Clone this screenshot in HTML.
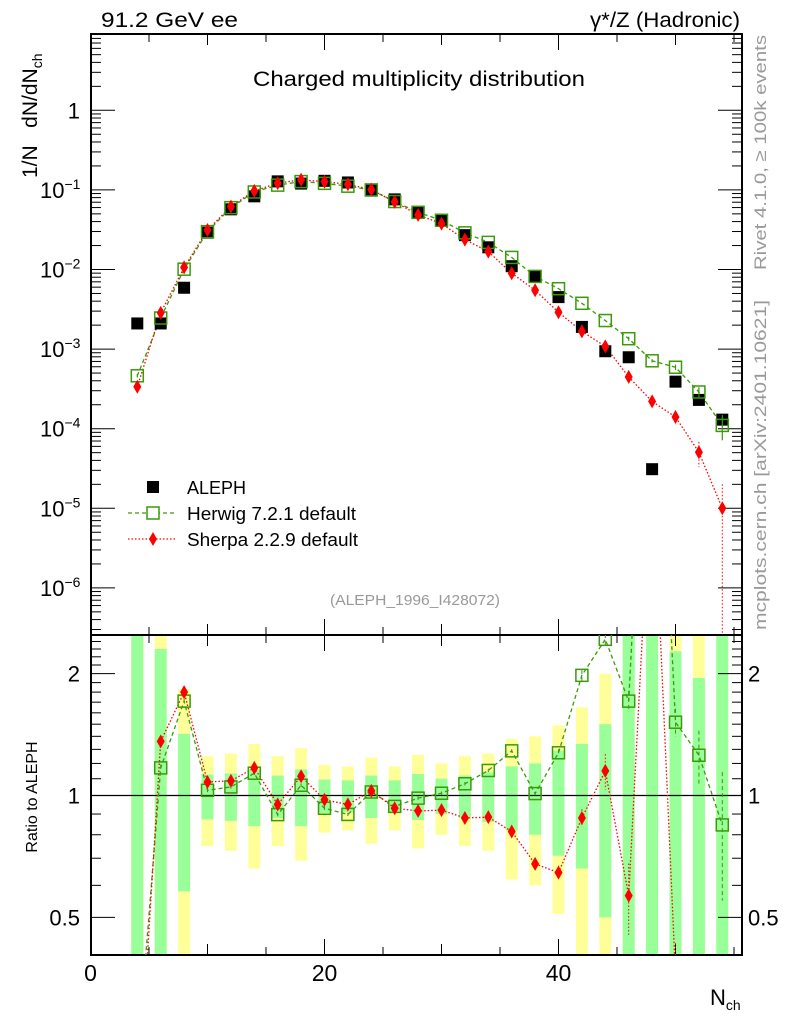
<!DOCTYPE html>
<html><head><meta charset="utf-8"><style>
html,body{margin:0;padding:0;background:#fff;overflow:hidden;}
svg{display:block;font-family:"Liberation Sans",sans-serif;}
</style></head><body>
<svg id="chart" width="786" height="1024" viewBox="0 0 786 1024" xmlns="http://www.w3.org/2000/svg">
<defs>
<clipPath id="clipMain"><rect x="91" y="34" width="651" height="601"/></clipPath>
<clipPath id="clipRatio"><rect x="91" y="635" width="651" height="320"/></clipPath>
</defs>
<g id="bands" clip-path="url(#clipRatio)"></g>
<g id="axes"></g>
<g id="mainSeries" clip-path="url(#clipMain)"></g>
<g id="ratioSeries" clip-path="url(#clipRatio)"></g>
<text x="101" y="27" font-size="21" textLength="137" lengthAdjust="spacingAndGlyphs">91.2 GeV ee</text>
<text x="590" y="27" font-size="21" textLength="150" lengthAdjust="spacingAndGlyphs">γ*/Z (Hadronic)</text>
<text x="253" y="86" font-size="21" textLength="332" lengthAdjust="spacingAndGlyphs">Charged multiplicity distribution</text>
<text transform="translate(37,178) rotate(-90)" font-size="21">1/N&#160;&#160;&#160;dN/dN<tspan font-size="14" dy="5">ch</tspan></text>
<text transform="translate(37,797) rotate(-90)" font-size="16" text-anchor="middle">Ratio to ALEPH</text>
<text x="710" y="1005" font-size="22">N<tspan font-size="14" dy="5">ch</tspan></text>
<text transform="translate(766,270) rotate(-90)" font-size="17" fill="#999" textLength="235" lengthAdjust="spacingAndGlyphs">Rivet 4.1.0, ≥ 100k events</text>
<text transform="translate(766,630) rotate(-90)" font-size="17" fill="#999" textLength="330" lengthAdjust="spacingAndGlyphs">mcplots.cern.ch [arXiv:2401.10621]</text>
<text x="330" y="605" font-size="15" fill="#999" textLength="170" lengthAdjust="spacingAndGlyphs">(ALEPH_1996_I428072)</text>
<g>
<rect x="147" y="481" width="12" height="12" fill="#000"/>
<text x="187" y="494" font-size="18">ALEPH</text>
<line x1="128" y1="513" x2="176" y2="513" stroke="#3a9a0a" stroke-width="1.3" stroke-dasharray="4,3"/>
<rect x="147" y="507" width="12" height="12" fill="#fff" stroke="#3a9a0a" stroke-width="1.5"/>
<text x="187" y="520" font-size="18" textLength="169" lengthAdjust="spacingAndGlyphs">Herwig 7.2.1 default</text>
<line x1="128" y1="539" x2="176" y2="539" stroke="#f00" stroke-width="1.3" stroke-dasharray="1.5,2"/>
<polygon points="153,532 157,539 153,546 149,539" fill="#f00"/>
<text x="187" y="546" font-size="18" textLength="171" lengthAdjust="spacingAndGlyphs">Sherpa 2.2.9 default</text>
</g>
</svg>
<script>
const nch = [4,6,8,10,12,14,16,18,20,22,24,26,28,30,32,34,36,38,40,42,44,46,48,50,52,54];
const alephVals = [2.1e-3,2.1e-3,5.9e-3,0.029,0.057,0.083,0.128,0.12,0.13,0.124,0.098,0.076,0.053,0.041,0.027,0.019,0.011,0.0081,0.0045,0.0019,0.00094,0.00079,3.1e-5,3.9e-4,2.3e-4,1.3e-4];
const herwigRatio = [0.22,1.17,1.71,1.03,1.05,1.135,0.897,1.06,0.93,0.898,1.02,0.94,0.985,1.013,1.069,1.153,1.289,1.011,1.275,1.98,2.43,1.71,23,1.517,1.257,0.846];
const sherpaRatio = [0.16,1.36,1.8,1.08,1.087,1.17,0.95,1.116,0.976,0.95,1.027,0.93,0.916,0.92,0.88,0.884,0.815,0.678,0.645,0.88,1.15,0.566,7.1,0.36,0.22,0.077];
const herwigRelErr = [0.05,0.02,0.02,0.01,0.01,0.01,0.01,0.01,0.01,0.01,0.01,0.01,0.01,0.01,0.01,0.01,0.01,0.01,0.02,0.03,0.03,0.06,0.05,0.08,0.15,0.35];
const sherpaRelErr = [0.12,0.02,0.02,0.01,0.01,0.01,0.01,0.01,0.01,0.01,0.01,0.01,0.01,0.01,0.01,0.02,0.02,0.03,0.04,0.05,0.1,0.2,0.15,0.2,0.35,1.0];
const statErr = [5,1.3,0.42,0.127,0.134,0.16,0.12,0.16,0.095,0.09,0.12,0.09,0.13,0.1,0.12,0.14,0.18,0.2,0.29,0.34,0.5,5,5,1.27,0.95,5];
const totErr = [6,3,0.83,0.25,0.27,0.34,0.25,0.31,0.19,0.18,0.24,0.18,0.26,0.2,0.25,0.27,0.38,0.4,0.49,0.65,1.0,6,6,3,3,6];
const xTicks = [0,20,40];
const yDecades = [0,-1,-2,-3,-4,-5,-6];
const ratioTicks = [0.5,1,2];

const NS="http://www.w3.org/2000/svg";
const L=91,R=742,T=34,MB=635,RB=955;
const X=v=>90.5+v*11.7;
const Y=v=>110.3-Math.log10(v)*79.6;
const RY=v=>795.5-Math.log10(v)*405;
function mk(parent,tag,attrs){const e=document.createElementNS(NS,tag);for(const k in attrs)e.setAttribute(k,attrs[k]);parent.appendChild(e);return e;}
const axes=document.getElementById('axes');
const bands=document.getElementById('bands');
const ms=document.getElementById('mainSeries');
const rs=document.getElementById('ratioSeries');
const clampR=v=>Math.max(0.01,v);

nch.forEach((n,i)=>{
  const y1=mk(bands,'rect',{x:X(n)-6,y:RY(1+totErr[i]),width:12,height:RY(clampR(1-totErr[i]))-RY(1+totErr[i]),fill:'#ffff99'});
  
  
  const g=mk(bands,'rect',{x:X(n)-6,y:RY(1+statErr[i]),width:12,height:RY(clampR(1-statErr[i]))-RY(1+statErr[i]),fill:'#99ff99'});
  
  
});

const f1=mk(axes,'rect',{x:L,y:T,width:R-L,height:MB-T,fill:'none',stroke:'#000','stroke-width':2});


const f2=mk(axes,'rect',{x:L,y:MB,width:R-L,height:RB-MB,fill:'none',stroke:'#000','stroke-width':2});


const one=mk(axes,'line',{x1:L,y1:RY(1),x2:R,y2:RY(1),stroke:'#000','stroke-width':1.2});



for(let v=0;v<=55;v+=5){
  const len=(v%20===0)?16:(v%10===0?11:8);
  [[T,1],[MB,-1],[MB,1],[RB,-1]].forEach(([y,d])=>mk(axes,'line',{x1:X(v),y1:y,x2:X(v),y2:y+d*len,stroke:'#000','stroke-width':1}));
}
xTicks.forEach(v=>{
  const t=mk(axes,'text',{x:X(v),y:981,'font-size':23,'text-anchor':'middle'});
  t.textContent=v;
  
  
});
for(let d=-7;d<=0;d++){
  for(let m=1;m<=9;m++){
    const v=m*Math.pow(10,d);const y=Y(v);
    if(y<T||y>MB)continue;
    const len=m===1?24:10;
    mk(axes,'line',{x1:L,y1:y,x2:L+len,y2:y,stroke:'#000','stroke-width':1});
    mk(axes,'line',{x1:R,y1:y,x2:R-len,y2:y,stroke:'#000','stroke-width':1});
  }
}
yDecades.forEach(d=>{
  const t=mk(axes,'text',{x:d===0?80:62,y:Y(Math.pow(10,d))+8,'font-size':22,'text-anchor':'end'});
  
  
  if(d===0){t.textContent='1';}
  else{t.textContent='10';const s=mk(t,'tspan',{dy:-9,'font-size':14});s.textContent='−'+(-d);t.setAttribute('text-anchor','start');t.setAttribute('x',40);}
});
for(let v=0.4;v<=2.5;v+=0.1){
  const y=RY(v);if(y<MB||y>RB)continue;
  const major=Math.abs(v-1)<0.01||Math.abs(v-2)<0.01||Math.abs(v-0.5)<0.01;
  const len=major?24:10;
  mk(axes,'line',{x1:L,y1:y,x2:L+len,y2:y,stroke:'#000','stroke-width':1});
  mk(axes,'line',{x1:R,y1:y,x2:R-len,y2:y,stroke:'#000','stroke-width':1});
}
ratioTicks.forEach(v=>{
  const a=mk(axes,'text',{x:80,y:RY(v)+8,'font-size':22,'text-anchor':'end'});a.textContent=v;
  
  
  const b=mk(axes,'text',{x:748,y:RY(v)+8,'font-size':22});b.textContent=v;
  
  
});

const hw=nch.map((n,i)=>alephVals[i]*herwigRatio[i]);
const sh=nch.map((n,i)=>alephVals[i]*sherpaRatio[i]);
mk(ms,'polyline',{points:nch.map((n,i)=>X(n)+','+Y(hw[i])).join(' '),fill:'none',stroke:'#3a9a0a','stroke-width':1.3,'stroke-dasharray':'4,3'});
mk(ms,'polyline',{points:nch.map((n,i)=>X(n)+','+Y(sh[i])).join(' '),fill:'none',stroke:'#f00','stroke-width':1.3,'stroke-dasharray':'1.5,2'});
nch.forEach((n,i)=>{
  const a=mk(ms,'rect',{x:X(n)-6,y:Y(alephVals[i])-6,width:12,height:12,fill:'#000'});
  
  
  const e=sherpaRelErr[i];
  if(e>0.03){mk(ms,'line',{x1:X(n),y1:Y(sh[i]*(1+e)),x2:X(n),y2:Y(Math.max(1e-9,sh[i]*(1-e))),stroke:'#f00','stroke-width':1,'stroke-dasharray':'1.5,2'});}
  const eh=herwigRelErr[i];
  if(eh>0.03){mk(ms,'line',{x1:X(n),y1:Y(hw[i]*(1+eh)),x2:X(n),y2:Y(hw[i]*(1-eh)),stroke:'#3a9a0a','stroke-width':1.2});}
  const h=mk(ms,'rect',{x:X(n)-6,y:Y(hw[i])-6,width:12,height:12,fill:'none',stroke:'#3a9a0a','stroke-width':1.5});
  
  
  const s=mk(ms,'polygon',{points:`${X(n)},${Y(sh[i])-7} ${X(n)+4},${Y(sh[i])} ${X(n)},${Y(sh[i])+7} ${X(n)-4},${Y(sh[i])}`,fill:'#f00'});
  
  
});

mk(rs,'polyline',{points:nch.map((n,i)=>X(n)+','+RY(herwigRatio[i])).join(' '),fill:'none',stroke:'#3a9a0a','stroke-width':1.3,'stroke-dasharray':'4,3'});
mk(rs,'polyline',{points:nch.map((n,i)=>X(n)+','+RY(sherpaRatio[i])).join(' '),fill:'none',stroke:'#f00','stroke-width':1.3,'stroke-dasharray':'1.5,2'});
nch.forEach((n,i)=>{
  const hr=herwigRatio[i],sr=sherpaRatio[i];
  const eh=herwigRelErr[i]*hr, es=sherpaRelErr[i]*sr;
  mk(rs,'line',{x1:X(n),y1:RY(hr+eh),x2:X(n),y2:RY(clampR(hr-eh)),stroke:'#3a9a0a','stroke-width':1,'stroke-dasharray':'4,3'});
  mk(rs,'line',{x1:X(n),y1:RY(sr+es),x2:X(n),y2:RY(clampR(sr-es)),stroke:'#f00','stroke-width':1,'stroke-dasharray':'1.5,2'});
  const h=mk(rs,'rect',{x:X(n)-6,y:RY(hr)-6,width:12,height:12,fill:'none',stroke:'#3a9a0a','stroke-width':1.5});
  
  
  const s=mk(rs,'polygon',{points:`${X(n)},${RY(sr)-7} ${X(n)+4},${RY(sr)} ${X(n)},${RY(sr)+7} ${X(n)-4},${RY(sr)}`,fill:'#f00'});
  
  
});
</script>
</body></html>
